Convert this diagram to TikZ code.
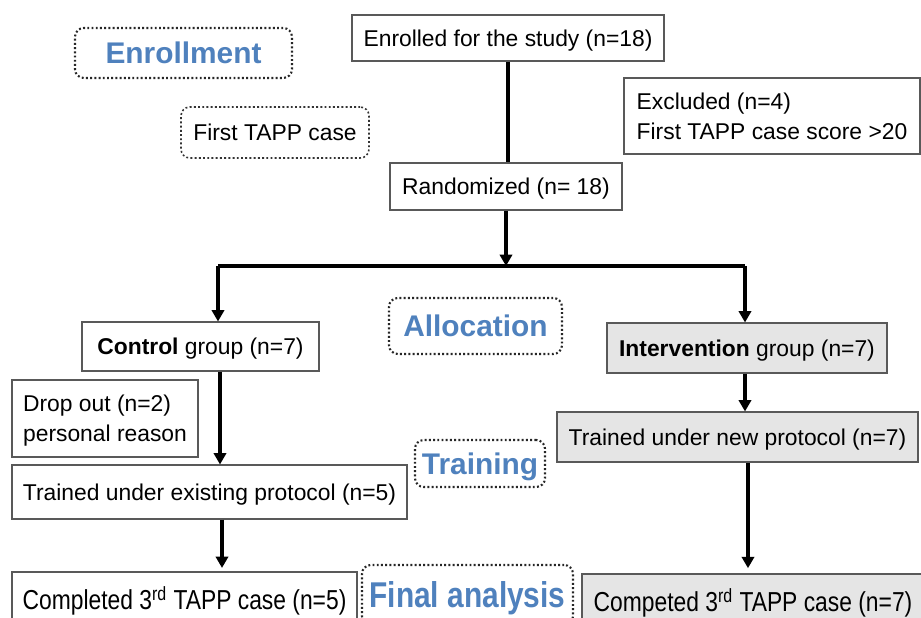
\documentclass[tikz,border=0pt]{standalone}
\usepackage{fontspec}
\setmainfont{Liberation Sans}
\usepackage{xcolor}
\usetikzlibrary{arrows.meta}
\definecolor{stageblue}{RGB}{79,129,189}

\begin{document}
\begin{tikzpicture}[x=0.02cm,y=-0.02cm]
		\tikzstyle{box}=[draw=black!65,line width=0.6pt,inner sep=2pt,text depth=0pt,font=\fontsize{13}{17}\selectfont]
		\tikzstyle{greybox}=[box,fill=black!10]
		\tikzstyle{stage}=[draw=black!85,line width=1.2pt,dash pattern=on 1.1pt off 1.3pt,rounded corners=5pt,text depth=0pt,text=stageblue,font=\fontsize{17}{20}\selectfont\bfseries]
		\tikzstyle{flow}=[line width=2pt,-{Triangle[width=7pt,length=6.5pt]}]
		\tikzstyle{plain}=[line width=2pt]
		
		\useasboundingbox (0,0) rectangle (921,618);
		
		% enrollment
		\node[stage,minimum width=217*0.02cm,minimum height=50*0.02cm](enrol) at (183.5,53){Enrollment};
		\node[stage,draw=black!80,line width=0.9pt,text=black,font=\fontsize{13}{17}\selectfont,minimum width=188*0.02cm,minimum height=51*0.02cm](first) at (275,132.5){First TAPP case};
		\node[box,minimum width=312*0.02cm,minimum height=46*0.02cm](enrolled) at (508,38){Enrolled for the study (n=18)};
		\node[box,align=left,minimum width=296*0.02cm,minimum height=76*0.02cm](excl) at (772,116){Excluded (n=4)\\First TAPP case score >20};
		\node[box,minimum width=232*0.02cm,minimum height=47*0.02cm](rand) at (506,186.5){Randomized (n= 18)};
		
		% allocation
		\node[stage,minimum width=173*0.02cm,minimum height=56*0.02cm](alloc) at (475.5,326){Allocation};
		\node[box,minimum width=237*0.02cm,minimum height=49*0.02cm](ctrl) at (200.5,346.5){\textbf{Control} group (n=7)};
		\node[greybox,minimum width=280*0.02cm,minimum height=50*0.02cm](interv) at (747,348){\textbf{Intervention} group (n=7)};
		
		% training
		\node[box,align=left,minimum width=186*0.02cm,minimum height=77*0.02cm](drop) at (105,418.5){Drop out (n=2)\\personal reason};
		\node[box,minimum width=395*0.02cm,minimum height=54*0.02cm](trainold) at (209.5,492){Trained under existing protocol (n=5)};
		\node[stage,minimum width=130*0.02cm,minimum height=47*0.02cm](training) at (480,463.5){Training};
		\node[greybox,minimum width=361*0.02cm,minimum height=50*0.02cm](trainnew) at (737.5,437){Trained under new protocol (n=7)};
		
		% final analysis
		\node[box,minimum width=345*0.02cm,minimum height=52*0.02cm](doneold) at (184.5,598){\scalebox{1}[1.2]{Completed 3\textsuperscript{rd} TAPP case (n=5)}};
		\node[stage,minimum width=211*0.02cm,minimum height=60*0.02cm](final) at (467.5,595){\scalebox{1}[1.2]{Final analysis}};
		\node[greybox,minimum width=342*0.02cm,minimum height=52*0.02cm](donenew) at (753,600){\scalebox{1}[1.2]{Competed 3\textsuperscript{rd} TAPP case (n=7)}};
		
		\coordinate(split) at (506,266);
		\coordinate(lx) at (218,266);
		\coordinate(rx) at (745,266);
		\coordinate(lx2) at (220,0);
		\coordinate(lx3) at (222,0);
		\coordinate(rx3) at (748,0);
		
		\draw[plain] (enrolled.south) -- (enrolled.south |- rand.north);
		\draw[flow] (rand.south) -- (split);
		\draw[plain] (lx) -- (rx);
		\draw[flow] (lx) -- (lx |- ctrl.north);
		\draw[flow] (rx) -- (rx |- interv.north);
		\draw[flow] (lx2 |- ctrl.south) -- (lx2 |- trainold.north);
		\draw[flow] (rx |- interv.south) -- (rx |- trainnew.north);
		\draw[flow] (lx3 |- trainold.south) -- ([yshift=2pt]lx3 |- doneold.north);
		\draw[flow] (rx3 |- trainnew.south) -- ([yshift=3pt]rx3 |- donenew.north);
\end{tikzpicture}
\end{document}
